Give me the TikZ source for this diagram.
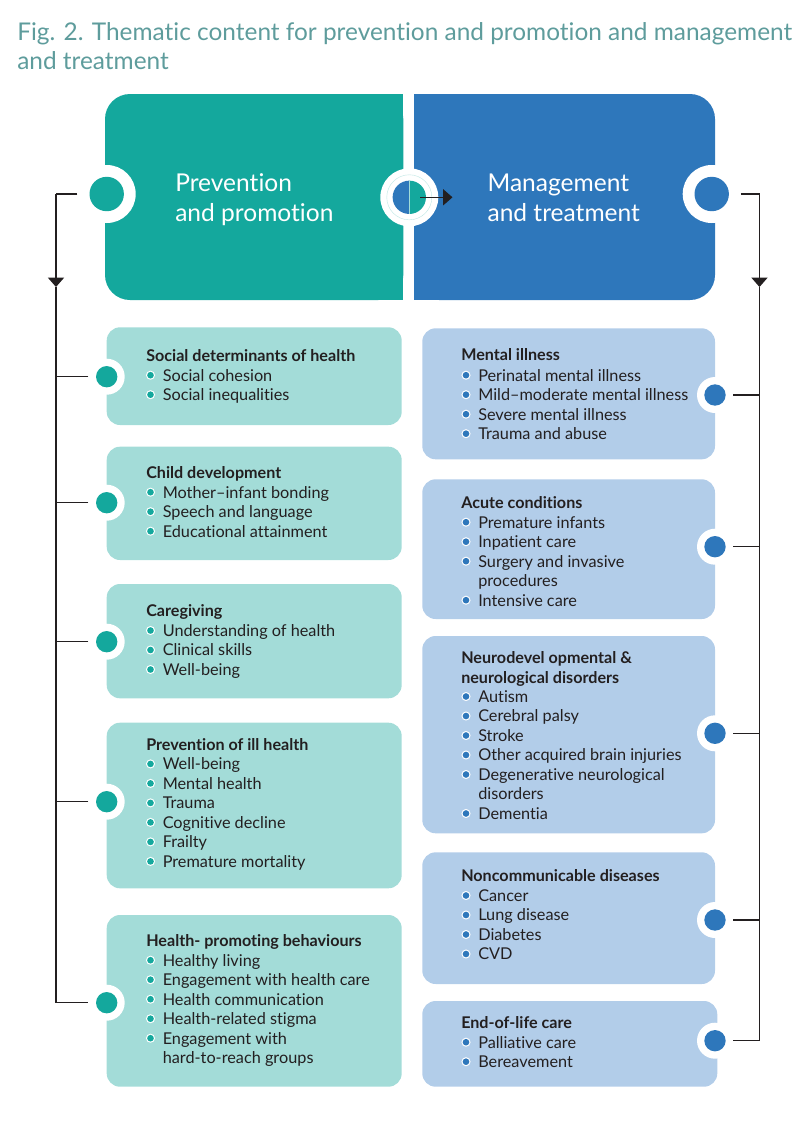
\documentclass[tikz,border=0pt]{standalone}
\usepackage{fontspec}
\setmainfont{Lato}[Ligatures={TeX,NoCommon,NoContextual},Contextuals={NoAlternate}]
\usetikzlibrary{arrows.meta,fit}
\definecolor{teal1}{HTML}{14A89D}
\definecolor{teal2}{HTML}{A3DCD8}
\definecolor{blue1}{HTML}{2E77BB}
\definecolor{blue2}{HTML}{B2CDE9}
\definecolor{titlec}{HTML}{5E9C9C}
\definecolor{ink}{HTML}{231F20}
% #1 prefix, #2 text x, #3 first baseline, #4 bullet colour, #5 list b/text
\newcommand\blist[5]{%
  \foreach \b/\t [count=\i] in {#5} {%
    \node[itm] (#1-\i) at (#2, #3+\i*19.5-19.5) {\t};
    \ifnum\b=1
      \fill[white] (#2-12, #3+\i*19.5-19.5-5.8) circle[radius=3.4pt];
      \fill[#4] (#2-12, #3+\i*19.5-19.5-5.8) circle[radius=2.5pt];
    \fi
  }%
}
\begin{document}
\begin{tikzpicture}[x=0.75pt,y=-0.75pt,
  figtitle/.style={anchor=base west, inner sep=0, text=titlec, font=\fontsize{18.3}{22}\selectfont},
  bigtxt/.style={anchor=base west, inner sep=0, text=white, font=\fontsize{18.4}{22}\selectfont},
  ttl/.style={anchor=base west, inner sep=0, text=ink, font=\bfseries\fontsize{12.1}{14}\selectfont},
  itm/.style={anchor=base west, inner sep=0, text=ink, font=\fontsize{12.2}{14}\selectfont},
  lbox/.style={fill=teal2, rounded corners=10pt, inner sep=0},
  rbox/.style={fill=blue2, rounded corners=10pt, inner sep=0},
  bigring/.style={circle, fill=white, minimum size=43.5pt, inner sep=0},
  smallring/.style={circle, fill=white, minimum size=27pt, inner sep=0},
  conn/.style={draw=ink, line width=0.9pt},
  tipped/.style={-{Triangle[length=7pt,width=12pt]}}
]
\useasboundingbox (0,0) rectangle (807,1122);

% figure title
\node[figtitle] (T1) at (17,40) {Fig. 2. Thematic content for prevention and promotion and management};
\node[figtitle] (T2) at (17,69) {and treatment};

% big boxes
\fill[teal1, rounded corners=18.75pt] (105,94) rectangle (403.3,300);
\fill[teal1] (250,94) rectangle (403.3,300);
\fill[blue1, rounded corners=18.75pt] (414.3,94) rectangle (715,300);
\fill[blue1] (414.3,94) rectangle (560,300);

\node[bigtxt] (PP1) at (175,191.7) {Prevention};
\node[bigtxt] (PP2) at (175,221) {and promotion};
\node[bigtxt] (MT1) at (487.3,191.7) {Management};
\node[bigtxt] (MT2) at (487.3,221) {and treatment};

% big rings
\node[bigring] (PPc) at (106.7,194) {};
\fill[teal1] (PPc.center) circle[radius=12.9pt];
\node[bigring] (MTc) at (711.7,194) {};
\fill[blue1] (MTc.center) circle[radius=12.9pt];

% middle ring
\node[bigring] (mid) at (409.3,197.3) {};
\draw[teal2!70, line width=0.3pt] (mid.center) circle[radius=16.9pt];
\fill[blue1] (mid.center) -- ++(90:12.5pt) arc[start angle=90, end angle=270, radius=12.5pt] -- cycle;
\fill[teal1] (mid.center) -- ++(-90:12.5pt) arc[start angle=-90, end angle=90, radius=12.5pt] -- cycle;
\draw[white!60!teal1, line width=0.4pt] ([yshift=12.5pt]mid.center) -- ([yshift=-12.5pt]mid.center);
\coordinate (ast) at (420,197.3);
\coordinate (aen) at (452.5,197.3);
\draw[conn, tipped] (ast) -- (aen);

% left boxes
\node[lbox, fit={(106.7,327.3) (401.7,425)}] (L1) {};
\node[lbox, fit={(106.7,446.7) (401.7,560)}] (L2) {};
\node[lbox, fit={(106.7,584) (401.7,698.3)}] (L3) {};
\node[lbox, fit={(106.7,722.7) (401.7,888.3)}] (L4) {};
\node[lbox, fit={(106.7,915) (401.7,1086.7)}] (L5) {};
% right boxes
\node[rbox, fit={(422.3,328.3) (715,459.3)}] (R1) {};
\node[rbox, fit={(422.3,479.3) (715,619)}] (R2) {};
\node[rbox, fit={(422.3,636) (715,833.3)}] (R3) {};
\node[rbox, fit={(422.3,852.3) (715,984)}] (R4) {};
\node[rbox, fit={(422.3,1001) (717.3,1086.7)}] (R5) {};

% small rings
\foreach \n/\y in {L1/376.7, L2/502.7, L3/641.7, L4/801.7, L5/1002.7} {
  \node[smallring] (\n c) at (106.7,\y) {};
  \fill[teal1] (\n c.center) circle[radius=8pt];
}
\foreach \n/\y in {R1/395, R2/546.7, R3/733.3, R4/920, R5/1040.7} {
  \node[smallring] (\n c) at (715,\y) {};
  \fill[blue1] (\n c.center) circle[radius=8pt];
}

% left trunk
\coordinate (LT) at (56,194);
\coordinate (LA) at (56,287);
\draw[conn] (PPc.west) -- (LT);
\draw[conn, tipped] (LT) -- (LA);
\draw[conn] (LA) |- (L5c.west);
\foreach \n in {L1,L2,L3,L4} { \draw[conn] (\n c.west) -- (\n c.west -| LT); }
% right trunk
\coordinate (RT) at (759.5,194);
\coordinate (RA) at (759.5,287);
\draw[conn] (MTc.east) -- (RT);
\draw[conn, tipped] (RT) -- (RA);
\draw[conn] (RA) |- (R5c.east);
\foreach \n in {R1,R2,R3,R4} { \draw[conn] (\n c.east) -- (\n c.east -| RT); }

% left texts
\node[ttl] (L1t) at (146,361.7) {Social determinants of health};
\blist{L1i}{162.5}{381}{teal1}{1/Social cohesion,1/Social inequalities}
\node[ttl] (L2t) at (146,478.3) {Child development};
\blist{L2i}{162.5}{498}{teal1}{1/Mother–infant bonding,1/Speech and language,1/Educational attainment}
\node[ttl] (L3t) at (146,616.7) {Caregiving};
\blist{L3i}{162.5}{636.3}{teal1}{1/Understanding of health,1/Clinical skills,1/Well-being}
\node[ttl] (L4t) at (146,750) {Prevention of ill health};
\blist{L4i}{162.5}{769.7}{teal1}{1/Well-being,1/Mental health,1/Trauma,1/Cognitive decline,1/Frailty,1/Premature mortality}
\node[ttl] (L5t) at (146,946.7) {Health- promoting behaviours};
\blist{L5i}{162.5}{966}{teal1}{1/Healthy living,1/Engagement with health care,1/Health communication,1/Health-related stigma,1/Engagement with,0/hard-to-reach groups}

% right texts
\node[ttl] (R1t) at (461,360.7) {Mental illness};
\blist{R1i}{478}{381}{blue1}{1/Perinatal mental illness,1/Mild–moderate mental illness,1/Severe mental illness,1/Trauma and abuse}
\node[ttl] (R2t) at (461,508.3) {Acute conditions};
\blist{R2i}{478}{528}{blue1}{1/Premature infants,1/Inpatient care,1/Surgery and invasive,0/procedures,1/Intensive care}
\node[ttl] (R3t) at (461,663.3) {Neurodevel opmental \&};
\node[ttl] (R3u) at (461,683) {neurological disorders};
\blist{R3i}{478}{702.3}{blue1}{1/Autism,1/Cerebral palsy,1/Stroke,1/Other acquired brain injuries,1/Degenerative neurological,0/disorders,1/Dementia}
\node[ttl] (R4t) at (461,881.7) {Noncommunicable diseases};
\blist{R4i}{478}{901.3}{blue1}{1/Cancer,1/Lung disease,1/Diabetes,1/CVD}
\node[ttl] (R5t) at (461,1028.3) {End-of-life care};
\blist{R5i}{478}{1048}{blue1}{1/Palliative care,1/Bereavement}
\end{tikzpicture}
\end{document}
